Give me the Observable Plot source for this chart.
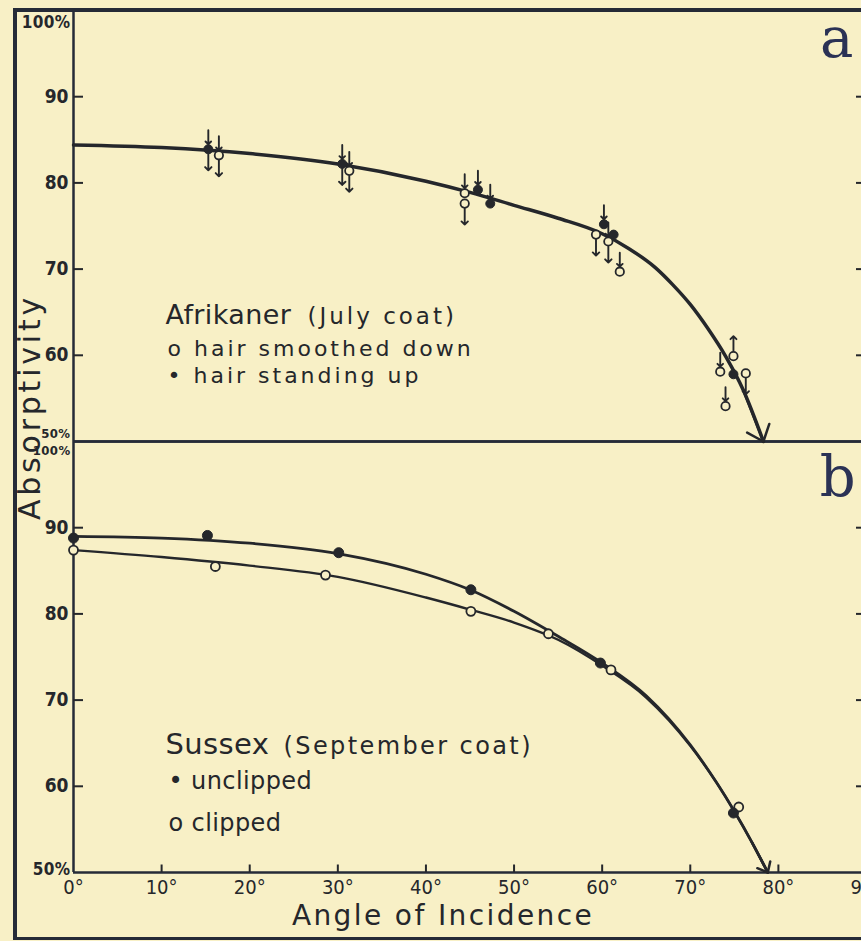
<!DOCTYPE html>
<html>
<head>
<meta charset="utf-8">
<script src="https://cdn.jsdelivr.net/npm/d3@7"></script>
<script src="https://cdn.jsdelivr.net/npm/@observablehq/plot@0.6"></script>
<style>
  html, body { margin: 0; padding: 0; background: #f8f0c6; overflow: hidden; }
  #wrap { position: relative; width: 861px; height: 941px; overflow: hidden; }
  #box { position: absolute; left: 13px; top: 8px; width: 900px; height: 925px;
         border-left: 4px solid #262b37; border-top: 4px solid #262b37; border-bottom: 3px solid #262b37; }
  #chart svg { position: absolute; left: 0; top: 0; }
  g[aria-description="sp0"] text { letter-spacing: 0.4px; }
  g[aria-description="sp1"] text { letter-spacing: 1px; }
  g[aria-description="sp2"] text { letter-spacing: 2.4px; }
  g[aria-description="sp3"] text { letter-spacing: 3px; }
  g[aria-description="sp4"] text { letter-spacing: 3.8px; }
</style>
</head>
<body>
<div id="wrap"><div id="box"></div><div id="chart"></div></div>
<script>
// ---------------- data ----------------
const angleTicks = [0, 10, 20, 30, 40, 50, 60, 70, 80, 90];
const innerTicks = [60, 70, 80, 90];
const topTick = [100];
const bottomTick = [50];
const panels = ["a", "b"];

const yTitle = "Absorptivity";
const xTitle = "Angle of Incidence";

// Panel a — Afrikaner (July coat)
const afrTitle = "Afrikaner";
const afrSub = "(July coat)";
const afrKeyOpen = "o hair smoothed down";
const afrKeyFilled = "• hair standing up";
const afrCurveAngle = [0, 10, 20, 30, 40, 45, 50, 55, 60, 63, 66, 68, 70, 72, 74, 76, 78.3];
const afrCurveValue = [84.4, 84.1, 83.4, 82.2, 80.2, 78.9, 77.4, 75.9, 74.1, 72.4, 70.2, 68.2, 65.9, 63.1, 59.9, 56.0, 50];
const afrAngle = [15.3, 16.5, 30.5, 31.3, 44.4, 44.4, 45.9, 47.3, 59.3, 60.2, 60.7, 61.3, 62.0, 74.9, 73.4, 74.9, 76.3, 74.0];
const afrValue = [83.9, 83.2, 82.2, 81.4, 78.8, 77.6, 79.2, 77.6, 74.0, 75.2, 73.2, 74.0, 69.7, 59.9, 58.1, 57.8, 57.9, 54.1];
const afrHair  = ["standing", "smoothed", "standing", "smoothed", "smoothed", "smoothed", "standing", "standing",
                  "smoothed", "standing", "smoothed", "standing", "smoothed", "smoothed", "smoothed", "standing", "smoothed", "smoothed"];
// arrow drawn with each reading: d = down arrow below, t = down arrow from above, b = both, u = up arrow, "" = none
const afrArrow = ["b", "b", "b", "b", "t", "d", "t", "t", "d", "t", "b", "", "t", "u", "t", "", "d", "t"];

// Panel b — Sussex (September coat)
const susTitle = "Sussex";
const susSub = "(September coat)";
const susKeyFilled = "• unclipped";
const susKeyOpen = "o clipped";
const susCurveAngle = [0, 10, 20, 30, 40, 45, 50, 55, 60, 65, 70, 73, 75, 77, 78.8];
const susUnclippedCurve = [89.0, 88.8, 88.2, 87.0, 84.6, 82.8, 80.3, 77.4, 74.3, 70.5, 64.8, 60.4, 57.1, 53.5, 50];
const susClippedCurve   = [87.4, 86.6, 85.6, 84.3, 81.9, 80.5, 79.0, 77.0, 74.0, 70.3, 64.7, 60.4, 57.1, 53.5, 50];
const susUnclippedAngle = [0, 15.2, 30.1, 45.1, 59.8, 74.9];
const susUnclippedValue = [88.8, 89.1, 87.1, 82.8, 74.3, 56.9];
const susClippedAngle = [0, 16.1, 28.6, 45.1, 53.9, 61.0, 75.5];
const susClippedValue = [87.4, 85.5, 84.5, 80.3, 77.7, 73.5, 57.6];

// ---------------- layout & style ----------------
const W = 861, H = 941;
const mL = 73, mR = -5, mT = 9, mB = 69;
const frameW = W - mL - mR;
const bandH = (H - mT - mB) / 2;
const ink = "#25272b";
const frameInk = "#262b37";
const paper = "#f8f0c6";
const numFont = "'DejaVu Sans Condensed', 'DejaVu Sans', sans-serif";
const textFont = "'DejaVu Sans', sans-serif";
const fyA = () => "a";
const fyB = () => "b";

// ---------------- records ----------------
const afrCurve = afrCurveAngle.map((x, i) => ({x, y: afrCurveValue[i]}));
const afrPts = afrAngle.map((x, i) => ({x, y: afrValue[i], hair: afrHair[i], arrow: afrArrow[i]}));
const susUp = susCurveAngle.map((x, i) => ({x, y: susUnclippedCurve[i]}));
const susLow = susCurveAngle.map((x, i) => ({x, y: susClippedCurve[i]}));
const susFilled = susUnclippedAngle.map((x, i) => ({x, y: susUnclippedValue[i]}));
const susOpen = susClippedAngle.map((x, i) => ({x, y: susClippedValue[i]}));
const endSeg = (c) => [{x1: c[c.length - 2].x, y1: c[c.length - 2].y, x2: c[c.length - 1].x, y2: c[c.length - 1].y}];

const legendA = [afrTitle, afrSub, afrKeyOpen, afrKeyFilled];
const legendB = [susTitle, susSub, susKeyFilled, susKeyOpen];

const lbl = (text, fy, opts) => Plot.text([text], {text: d => d, fy, frameAnchor: "top-left", lineAnchor: "bottom",
  textAnchor: "start", fill: ink, fontFamily: textFont, ...opts});

// percentage labels at the ends of each panel's scale
const pct = (panel, v, anchor, size, dy) => Plot.text([v], {
  text: d => d + "%", y: d => d, fy: () => panel, frameAnchor: "left", textAnchor: "end", lineAnchor: anchor,
  dx: -3, dy, fontSize: size, fontWeight: "bold", fontFamily: numFont, fill: ink, ariaDescription: "sp0"});

const chart = Plot.plot({
  width: W, height: H,
  marginLeft: mL, marginRight: mR, marginTop: mT, marginBottom: mB,
  style: {background: "transparent", color: ink},
  x: {domain: [0, 90]},
  y: {domain: [50, 100]},
  fy: {domain: panels, padding: 0, axis: null},
  marks: [
    // frame lines
    Plot.ruleX([0], {stroke: frameInk, strokeWidth: 2.5}),
    Plot.ruleY(bottomTick, {stroke: frameInk, strokeWidth: 2.5}),
    Plot.ruleY(topTick, {stroke: frameInk, strokeWidth: 2.5}),
    // inward ticks
    Plot.tickY(innerTicks, {y: d => d, insetRight: frameW - 10, stroke: ink, strokeWidth: 2}),
    Plot.tickY(innerTicks, {y: d => d, insetLeft: frameW - 10, stroke: ink, strokeWidth: 2}),
    Plot.tickX(angleTicks.filter(d => d > 0), {x: d => d, fy: fyB, insetTop: bandH - 8, stroke: ink, strokeWidth: 2}),
    // tick labels
    Plot.axisY(innerTicks, {tickSize: 0, tickPadding: 5, label: null, fontSize: 19, fontWeight: "bold", fontFamily: numFont, fill: ink}),
    pct("a", topTick[0], "top", 17, 5),
    pct("a", bottomTick[0], "bottom", 13, -4),
    pct("b", topTick[0], "top", 13, 4),
    pct("b", bottomTick[0], "bottom", 17, 2),
    Plot.axisX(angleTicks, {tickSize: 0, tickPadding: 7, label: null, tickFormat: d => d + "°", fontSize: 20, fontFamily: numFont, fill: ink}),
    // panel a
    Plot.line(afrCurve, {x: "x", y: "y", fy: fyA, curve: "monotone-x", stroke: ink, strokeWidth: 3.5}),
    Plot.arrow(endSeg(afrCurve), {x1: "x1", y1: "y1", x2: "x2", y2: "y2", fy: fyA, stroke: ink, strokeWidth: 2.5, headLength: 16, headAngle: 80}),
    Plot.vector(afrPts.filter(d => d.arrow === "d" || d.arrow === "b"), {x: "x", y: "y", fy: fyA, length: 16, rotate: 180, anchor: "start", dy: 5, stroke: ink, strokeWidth: 1.9}),
    Plot.vector(afrPts.filter(d => d.arrow === "t" || d.arrow === "b"), {x: "x", y: "y", fy: fyA, length: 14, rotate: 180, anchor: "end", dy: -5, stroke: ink, strokeWidth: 1.9}),
    Plot.vector(afrPts.filter(d => d.arrow === "u"), {x: "x", y: "y", fy: fyA, length: 15, rotate: 0, anchor: "start", dy: -5, stroke: ink, strokeWidth: 1.9}),
    Plot.dot(afrPts.filter(d => d.hair === "smoothed"), {x: "x", y: "y", fy: fyA, r: 4.2, fill: paper, stroke: ink, strokeWidth: 1.8}),
    Plot.dot(afrPts.filter(d => d.hair === "standing"), {x: "x", y: "y", fy: fyA, r: 4.5, fill: ink, stroke: ink, strokeWidth: 1}),
    // panel b
    Plot.line(susUp, {x: "x", y: "y", fy: fyB, curve: "monotone-x", stroke: ink, strokeWidth: 2.8}),
    Plot.line(susLow, {x: "x", y: "y", fy: fyB, curve: "monotone-x", stroke: ink, strokeWidth: 2.4}),
    Plot.arrow(endSeg(susUp), {x1: "x1", y1: "y1", x2: "x2", y2: "y2", fy: fyB, stroke: ink, strokeWidth: 2.5, headLength: 16, headAngle: 80}),
    Plot.dot(susOpen, {x: "x", y: "y", fy: fyB, r: 4.5, fill: paper, stroke: ink, strokeWidth: 1.8}),
    Plot.dot(susFilled, {x: "x", y: "y", fy: fyB, r: 5, fill: ink, stroke: ink, strokeWidth: 1}),
    // panel letters
    Plot.text(["a"], {text: d => d, fy: fyA, frameAnchor: "top-right", textAnchor: "end", lineAnchor: "bottom", dx: -13, dy: 46, fontSize: 56, fontFamily: "'DejaVu Serif', serif", fill: "#2b3255"}),
    Plot.text(["b"], {text: d => d, fy: fyB, frameAnchor: "top-right", textAnchor: "end", lineAnchor: "bottom", dx: -11, dy: 54, fontSize: 56, fontFamily: "'DejaVu Serif', serif", fill: "#2b3255"}),
    // legends
    lbl(legendA[0], fyA, {dx: 92, dy: 313, fontSize: 27, ariaDescription: "sp0"}),
    lbl(legendA[1], fyA, {dx: 234, dy: 313, fontSize: 23, ariaDescription: "sp3"}),
    lbl(legendA[2], fyA, {dx: 94, dy: 345, fontSize: 22, ariaDescription: "sp3"}),
    lbl(legendA[3], fyA, {dx: 94, dy: 372, fontSize: 22, ariaDescription: "sp3"}),
    lbl(legendB[0], fyB, {dx: 92, dy: 312, fontSize: 29, ariaDescription: "sp0"}),
    lbl(legendB[1], fyB, {dx: 210, dy: 312, fontSize: 24, ariaDescription: "sp2"}),
    lbl(legendB[2], fyB, {dx: 95, dy: 347, fontSize: 24, ariaDescription: "sp0"}),
    lbl(legendB[3], fyB, {dx: 95, dy: 389, fontSize: 24, ariaDescription: "sp0"}),
    // axis titles
    Plot.text([yTitle], {text: d => d, fy: fyA, frameAnchor: "left", dx: -43, dy: 181, rotate: -90, textAnchor: "middle", lineAnchor: "middle", fontSize: 30, fontFamily: textFont, fill: ink, ariaDescription: "sp4"}),
    Plot.text([xTitle], {text: d => d, fy: fyB, frameAnchor: "bottom", dx: -27, dy: 52, textAnchor: "middle", lineAnchor: "bottom", fontSize: 28, fontFamily: textFont, fill: ink, ariaDescription: "sp2"})
  ]
});
document.getElementById("chart").appendChild(chart);
</script>
</body>
</html>
